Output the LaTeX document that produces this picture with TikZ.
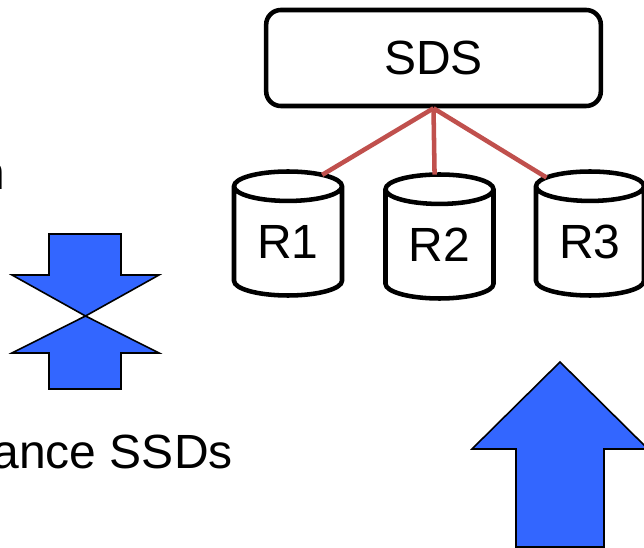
\documentclass[tikz,border=0pt]{standalone}
\usepackage{fontspec}
\setmainfont{Liberation Sans}
\usetikzlibrary{shapes.geometric}
\definecolor{fatblue}{HTML}{3366FF}
\definecolor{linkred}{HTML}{C0504D}
\tikzset{
  labeltext/.style={inner sep=0pt, font=\fontsize{36}{40}\selectfont},
  disk/.style={labeltext, draw, line width=3.4pt, shape=cylinder, shape border rotate=90, aspect=0.48,
    minimum width=81pt, minimum height=93pt, outer sep=0pt},
  link/.style={draw=linkred, line width=3.4pt},
  fatarrow/.style={draw=black, fill=fatblue, line width=1.2pt, line join=miter}
}
\begin{document}
\begin{tikzpicture}[x=0.75pt, y=-0.75pt]
  \useasboundingbox (0, 0) rectangle (644, 548);

  \node[labeltext, draw, line width=3.4pt, rounded corners=11pt, minimum width=251pt, minimum height=72pt] (sds) at (433.5, 58) {SDS};

  \node[disk] (r1) at (288, 242) {R1};
  \node[disk] (r2) at (439.5, 245) {R2};
  \node[disk] (r3) at (590, 242) {R3};

  \coordinate (hub) at (sds.south);
  \draw[link] (hub) -- (r1.63);
  \draw[link] (hub) -- (r2.94);
  \draw[link] (hub) -- (r3.124);

  % squeezed pair of arrows
  \draw[fatarrow] (49, 234) -- (121, 234) -- (121, 275) -- (159, 275) -- (85.5, 316) -- (12, 275) -- (49, 275) -- cycle;
  \draw[fatarrow] (49, 389) -- (121, 389) -- (121, 353) -- (159, 353) -- (85.5, 316) -- (12, 353) -- (49, 353) -- cycle;

  % big arrow
  \draw[fatarrow] (560, 362) -- (648, 449) -- (604, 449) -- (604, 547) -- (516, 547) -- (516, 449) -- (472, 449) -- cycle;

  \node[labeltext, anchor=base east] (ssds) at (233, 469) {ance SSDs};
  \node[labeltext, anchor=base east] (cut) at (5, 190) {n};
\end{tikzpicture}
\end{document}
